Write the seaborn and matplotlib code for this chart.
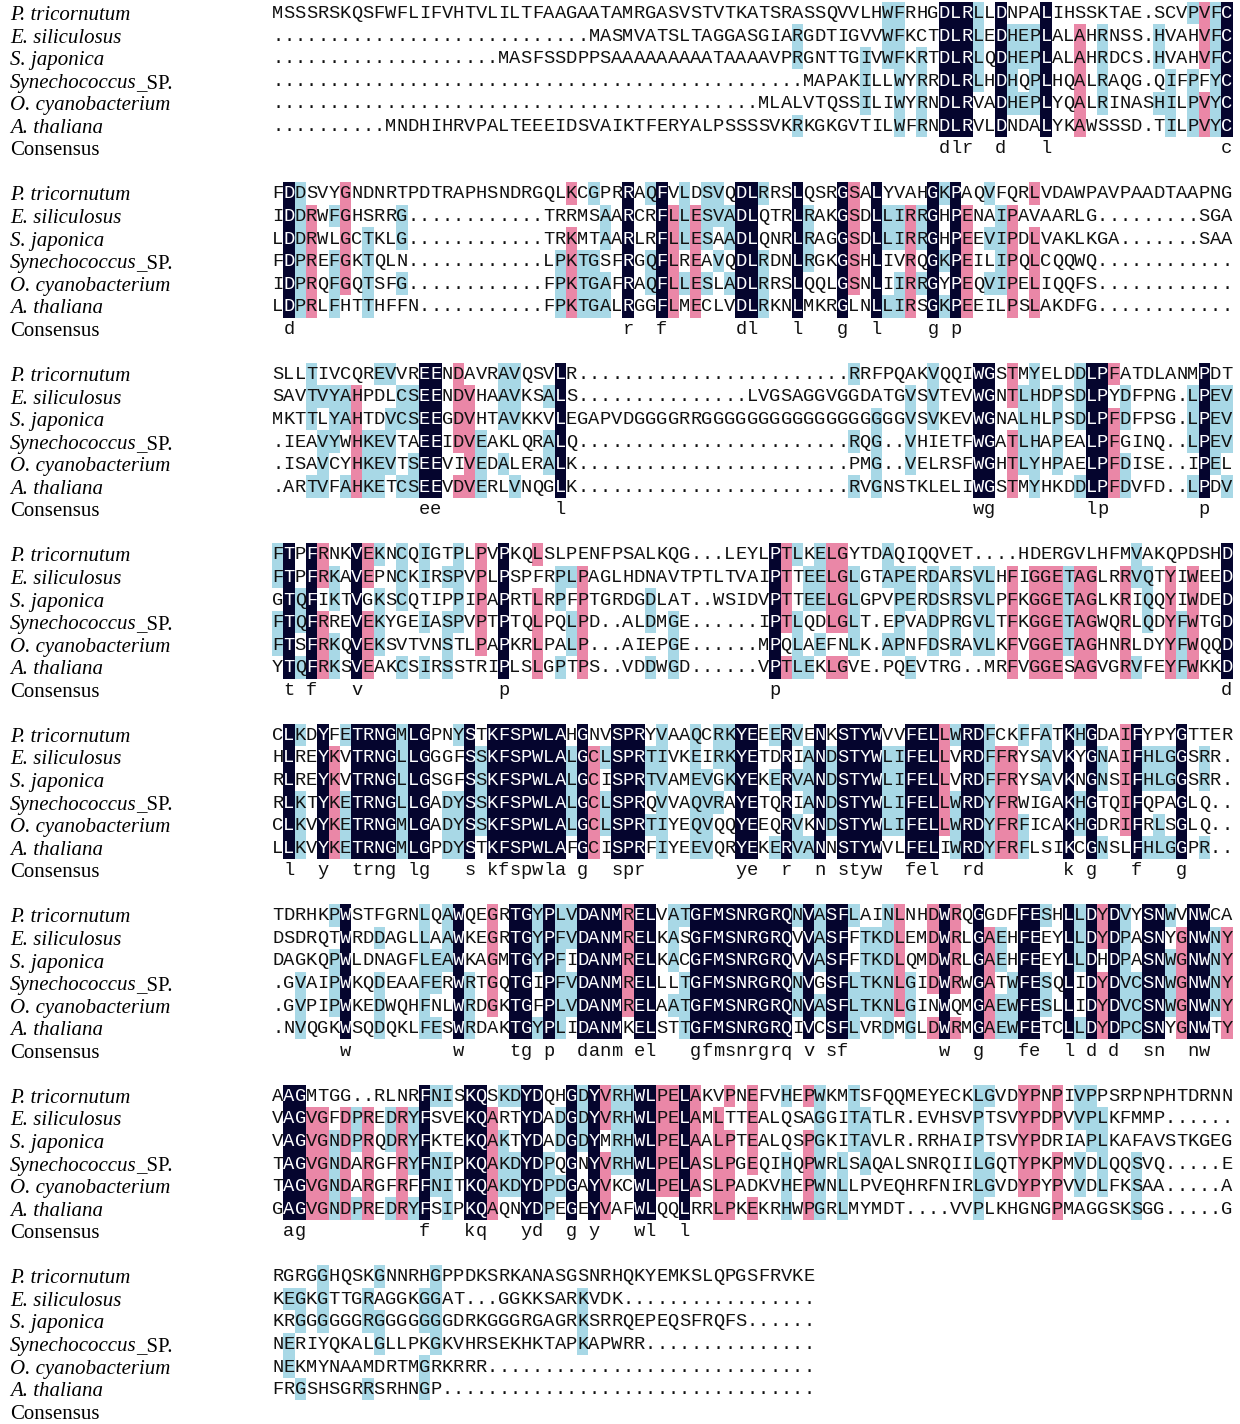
import collections
import numpy as np
import matplotlib
matplotlib.use("Agg")
import matplotlib.pyplot as plt
import seaborn as sns
from matplotlib.colors import ListedColormap

# names of the aligned sequences (last one is the consensus line)
SPECIES = ["P. tricornutum", "E. siliculosus", "S. japonica",
           "Synechococcus_SP.", "O. cyanobacterium", "A. thaliana"]

# alignment, one list per printed block
BLOCK_1 = [
    "MSSSRSKQSFWFLIFVHTVLILTFAAGAATAMRGASVSTVTKATSRASSQVVLHWFRHGDLRLLDNPALIHSSKTAE.SCVPVFC",
    "............................MASMVATSLTAGGASGIARGDTIGVVWFKCTDLRLEDHEPLALAHRNSS.HVAHVFC",
    "....................MASFSSDPPSAAAAAAAAATAAAAVPRGNTTGIVWFKRTDLRLQDHEPLALAHRDCS.HVAHVFC",
    "...............................................MAPAKILLWYRRDLRLHDHQPLHQALRAQG.QIFPFYC",
    "...........................................MLALVTQSSILIWYRNDLRVADHEPLYQALRINASHILPVYC",
    "..........MNDHIHRVPALTEEEIDSVAIKTFERYALPSSSSVKRKGKGVTILWFRNDLRVLDNDALYKAWSSSD.TILPVYC",
]
BLOCK_2 = [
    "FDDSVYGNDNRTPDTRAPHSNDRGQLKCGPRRAQFVLDSVQDLRRSLQSRGSALYVAHGKPAQVFQRLVDAWPAVPAADTAAPNG",
    "IDDRWFGHSRRG............TRRMSAARCRFLLESVADLQTRLRAKGSDLLIRRGHPENAIPAVAARLG.........SGA",
    "LDDRWLGCTKLG............TRKMTAARLRFLLESAADLQNRLRAGGSDLLIRRGHPEEVIPDLVAKLKGA.......SAA",
    "FDPREFGKTQLN............LPKTGSFRGQFLREAVQDLRDNLRGKGSHLIVRQGKPEILIPQLCQQWQ............",
    "IDPRQFGQTSFG............FPKTGAFRAQFLLESLADLRRSLQQLGSNLIIRRGYPEQVIPELIQQFS............",
    "LDPRLFHTTHFFN...........FPKTGALRGGFLMECLVDLRKNLMKRGLNLLIRSGKPEEILPSLAKDFG............",
]
BLOCK_3 = [
    "SLLTIVCQREVVREENDAVRAVQSVLR........................RRFPQAKVQQIWGSTMYELDDLPFATDLANMPDT",
    "SAVTVYAHPDLCSEENDVHAAVKSALS...............LVGSAGGVGGDATGVSVTEVWGNTLHDPSDLPYDFPNG.LPEV",
    "MKTTLYAHTDVCSEEGDVHTAVKKVLEGAPVDGGGGRRGGGGGGGGGGGGGGGGGGVSVKEVWGNALHLPSDLPFDFPSG.LPEV",
    ".IEAVYWHKEVTAEEIDVEAKLQRALQ........................RQG..VHIETFWGATLHAPEALPFGINQ..LPEV",
    ".ISAVCYHKEVTSEEVIVEDALERALK........................PMG..VELRSFWGHTLYHPAELPFDISE..IPEL",
    ".ARTVFAHKETCSEEVDVERLVNQGLK........................RVGNSTKLELIWGSTMYHKDDLPFDVFD..LPDV",
]
BLOCK_4 = [
    "FTPFRNKVEKNCQIGTPLPVPKQLSLPENFPSALKQG...LEYLPTLKELGYTDAQIQQVET....HDERGVLHFMVAKQPDSHD",
    "FTPFRKAVEPNCKIRSPVPLPSPFRPLPAGLHDNAVTPTLTVAIPTTEELGLGTAPERDARSVLHFIGGETAGLRRVQTYIWEED",
    "GTQFIKTVGKSCQTIPPIPAPRTLRPFPTGRDGDLAT..WSIDVPTTEELGLGPVPERDSRSVLPFKGGETAGLKRIQQYIWDED",
    "FTQFRREVEKYGEIASPVPTPTQLPQLPD..ALDMGE......IPTLQDLGLT.EPVADPRGVLTFKGGETAGWQRLQDYFWTGD",
    "FTSFRKQVEKSVTVNSTLPAPKRLPALP...AIEPGE......MPQLAEFNLK.APNFDSRAVLKFVGGETAGHNRLDYYFWQQD",
    "YTQFRKSVEAKCSIRSSTRIPLSLGPTPS..VDDWGD......VPTLEKLGVE.PQEVTRG..MRFVGGESAGVGRVFEYFWKKD",
]
BLOCK_5 = [
    "CLKDYFETRNGMLGPNYSTKFSPWLAHGNVSPRYVAAQCRKYEEERVENKSTYWVVFELLWRDFCKFFATKHGDAIFYPYGTTER",
    "HLREYKVTRNGLLGGGFSSKFSPWLALGCLSPRTIVKEIRKYETDRIANDSTYWLIFELLVRDFFRYSAVKYGNAIFHLGGSRR.",
    "RLREYKVTRNGLLGSGFSSKFSPWLALGCISPRTVAMEVGKYEKERVANDSTYWLIFELLVRDFFRYSAVKNGNSIFHLGGSRR.",
    "RLKTYKETRNGLLGADYSSKFSPWLALGCLSPRQVVAQVRAYETQRIANDSTYWLIFELLWRDYFRWIGAKHGTQIFQPAGLQ..",
    "CLKVYKETRNGMLGADYSSKFSPWLALGCLSPRTIYEQVQQYEEQRVKNDSTYWLIFELLWRDYFRFICAKHGDRIFRLSGLQ..",
    "LLKVYKETRNGMLGPDYSTKFSPWLAFGCISPRFIYEEVQRYEKERVANNSTYWVLFELIWRDYFRFLSIKCGNSLFHLGGPR..",
]
BLOCK_6 = [
    "TDRHKPWSTFGRNLQAWQEGRTGYPLVDANMRELVATGFMSNRGRQNVASFLAINLNHDWRQGGDFFESHLLDYDVYSNWVNWCA",
    "DSDRQTWRDDAGLLAAWKEGRTGYPFVDANMRELKASGFMSNRGRQVVASFFTKDLEMDWRLGAEHFEEYLLDYDPASNYGNWNY",
    "DAGKQPWLDNAGFLEAWKAGMTGYPFIDANMRELKACGFMSNRGRQVVASFFTKDLQMDWRLGAEHFEEYLLDHDPASNWGNWNY",
    ".GVAIPWKQDEAAFERWRTGQTGIPFVDANMRELLLTGFMSNRGRQNVGSFLTKNLGIDWRWGATWFESQLIDYDVCSNWGNWNY",
    ".GVPIPWKEDWQHFNLWRDGKTGFPLVDANMRELAATGFMSNRGRQNVASFLTKNLGINWQMGAEWFESLLIDYDVCSNWGNWNY",
    ".NVQGKWSQDQKLFESWRDAKTGYPLIDANMKELSTTGFMSNRGRQIVCSFLVRDMGLDWRMGAEWFETCLLDYDPCSNYGNWTY",
]
BLOCK_7 = [
    "AAGMTGG..RLNRFNISKQSKDYDQHGDYVRHWLPELAKVPNEFVHEPWKMTSFQQMEYECKLGVDYPNPIVPPSRPNPHTDRNN",
    "VAGVGFDPREDRYFSVEKQARTYDADGDYVRHWLPELAMLTTEALQSAGGITATLR.EVHSVPTSVYPDPVVPLKFMMP......",
    "VAGVGNDPRQDRYFKTEKQAKTYDADGDYMRHWLPELAALPTEALQSPGKITAVLR.RRHAIPTSVYPDRIAPLKAFAVSTKGEG",
    "TAGVGNDARGFRYFNIPKQAKDYDPQGNYVRHWLPELASLPGEQIHQPWRLSAQALSNRQIILGQTYPKPMVDLQQSVQ.....E",
    "TAGVGNDARGFRFFNITKQAKDYDPDGAYVKCWLPELASLPADKVHEPWNLLPVEQHRFNIRLGVDYPYPVVDLFKSAA.....A",
    "GAGVGNDPREDRYFSIPKQAQNYDPEGEYVAFWLQQLRRLPKEKRHWPGRLMYMDT....VVPLKHGNGPMAGGSKSGG.....G",
]
BLOCK_8 = [
    "RGRGGHQSKGNNRHGPPDKSRKANASGSNRHQKYEMKSLQPGSFRVKE",
    "KEGKGTTGRAGGKGGAT...GGKKSARKVDK.................",
    "KRGGGGGGRGGGGGGGDRKGGGRGAGRKSRRQEPEQSFRQFS......",
    "NERIYQKALGLLPKGKVHRSEKHKTAPKAPWRR...............",
    "NEKMYNAAMDRTMGRKRRR.............................",
    "FRGSHSGRRSRHNGP.................................",
]

# consensus line under each block
CONSENSUS = [
    " " * 59 + "dlr  d   l" + " " * 15 + "c",
    " d" + " " * 29 + "r  f" + " " * 6 + "dl   l   g  l    g p",
    " " * 13 + "ee" + " " * 10 + "l" + " " * 36 + "wg" + " " * 8 + "lp" + " " * 8 + "p",
    " t f   v" + " " * 12 + "p" + " " * 23 + "p" + " " * 39 + "d",
    " l  y  trng lg   s kfspwla g  spr" + " " * 8 + "ye  r  n styw  fel  rd" + " " * 7 + "k g   f   g",
    "      w" + " " * 9 + "w" + " " * 4 + "tg p  danm el   gfmsnrgrq v sf" + " " * 8 + "w  g   fe  l d d  sn  nw",
    " ag" + " " * 10 + "f   kq   yd  g y   wl  l",
    "",
]

BLOCKS = [BLOCK_1, BLOCK_2, BLOCK_3, BLOCK_4, BLOCK_5, BLOCK_6, BLOCK_7, BLOCK_8]

DARK = "#05052e"
PINK = "#ea87a7"
BLUE = "#a8d8e6"


def shade_levels(rows, cons, width):
    # 0 none, 1 >=50% blue, 2 >=75% pink, 3 identical dark
    lev = np.zeros((len(rows), width), dtype=int)
    for c in range(width):
        col = [r[c] if c < len(r) else "." for r in rows]
        res = [ch for ch in col if ch != "."]
        if not res:
            continue
        if c < len(cons) and cons[c] != " ":
            for i, ch in enumerate(col):
                if ch != ".":
                    lev[i, c] = 3
            continue
        counts = collections.Counter(res)
        top = max(counts.values())
        if top == len(rows):
            level = 3
        elif top >= 5:
            level = 2
        elif top >= 3:
            level = 1
        else:
            continue
        for i, ch in enumerate(col):
            if ch != "." and counts[ch] == top:
                lev[i, c] = level
    return lev


NCOL = 85
ROWS_PER_BLOCK = 8
n_rows = ROWS_PER_BLOCK * (len(BLOCKS) - 1) + 7
grid = np.zeros((n_rows, NCOL), dtype=int)
for b, rows in enumerate(BLOCKS):
    lev = shade_levels(rows, CONSENSUS[b], NCOL)
    grid[b * ROWS_PER_BLOCK:b * ROWS_PER_BLOCK + len(rows), :] = lev

# figure in pixels: 1240 x 1424
W, H = 1240, 1424
x0, cw = 272.0, 11.3
pitch = 22.56
top = 13 - pitch / 2

fig = plt.figure(figsize=(W / 100, H / 100), dpi=100)
ax = fig.add_axes([x0 / W, 1 - (top + n_rows * pitch) / H, NCOL * cw / W, n_rows * pitch / H])
sns.heatmap(grid, ax=ax, cmap=ListedColormap(["white", BLUE, PINK, DARK]),
            vmin=-0.5, vmax=3.5, cbar=False, xticklabels=False, yticklabels=False)

seq_font = dict(family="Liberation Mono", fontsize=13.5)
name_font = dict(family="Liberation Serif", fontsize=15)
name_x = (10 - x0) / cw

renderer = fig.canvas.get_renderer()
for b, rows in enumerate(BLOCKS):
    r0 = b * ROWS_PER_BLOCK
    for i, seq in enumerate(rows):
        r = r0 + i
        for c, ch in enumerate(seq):
            color = "white" if grid[r, c] == 3 else "#111111"
            ax.text(c + 0.5, r + 0.72, ch, ha="center", va="baseline", color=color, **seq_font)
        name = SPECIES[i]
        if name.endswith("_SP."):
            t = ax.text(name_x, r + 0.81, name[:-4], ha="left", va="baseline",
                        style="italic", clip_on=False, **name_font)
            wpx = t.get_window_extent(renderer).width
            ax.text(name_x + wpx / cw, r + 0.81, "_SP.", ha="left", va="baseline",
                    clip_on=False, **name_font)
        else:
            ax.text(name_x, r + 0.81, name, ha="left", va="baseline",
                    style="italic", clip_on=False, **name_font)
    rc = r0 + 6
    for c, ch in enumerate(CONSENSUS[b]):
        if ch != " ":
            ax.text(c + 0.5, rc + 0.72, ch, ha="center", va="baseline", color="#111111", **seq_font)
    ax.text(name_x, rc + 0.81, "Consensus", ha="left", va="baseline", clip_on=False, **name_font)

fig.savefig("out.png", dpi=100, facecolor="white")
